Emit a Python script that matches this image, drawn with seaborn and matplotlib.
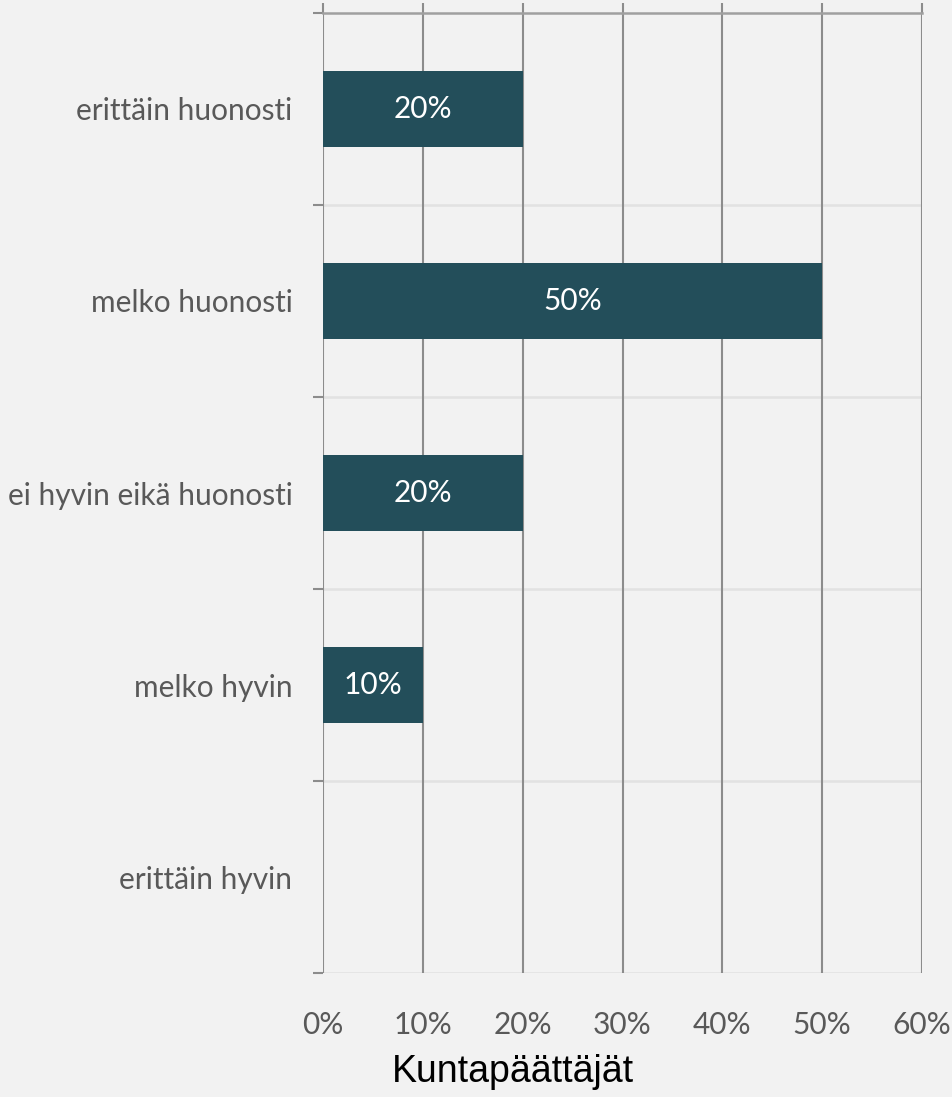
import numpy as np
import pandas as pd
import seaborn as sns
import matplotlib.pyplot as plt
from matplotlib.ticker import FixedLocator, PercentFormatter

# data
vastaukset = ['erittäin huonosti', 'melko huonosti', 'ei hyvin eikä huonosti',
              'melko hyvin', 'erittäin hyvin']
osuudet = [20, 50, 20, 10, 0]
x_ticks = [0, 10, 20, 30, 40, 50, 60]

df = pd.DataFrame({'vastaus': vastaukset, 'osuus': osuudet})

sns.set_style('white')
plt.rcParams['font.family'] = ['Lato', 'DejaVu Sans']

bg = '#f2f2f2'
bar_col = '#234e5a'
grid_col = '#8c8c8c'
text_col = '#595959'

fig = plt.figure(figsize=(9.52, 10.97), dpi=100, facecolor=bg)
ax = fig.add_axes([323 / 952, 1 - 973 / 1097, (922 - 323) / 952, (973 - 13) / 1097])
ax.set_facecolor(bg)

sns.barplot(data=df, y='vastaus', x='osuus', order=vastaukset, orient='h',
            color=bar_col, saturation=1, width=0.4, linewidth=0, ax=ax, zorder=3)

ax.set_xlim(0, 60)
ax.set_ylim(4.5, -0.5)

# pystyviivat
ax.xaxis.set_major_locator(FixedLocator(x_ticks))
ax.xaxis.set_major_formatter(PercentFormatter(decimals=0))
for x in x_ticks:
    ax.axvline(x, color=grid_col, lw=1.5, zorder=1)

# vaakaviivat luokkien välissä
bounds = np.arange(-0.5, 5, 1)
for y in bounds[1:]:
    ax.axhline(y, color='#e2e2e2', lw=1.8, zorder=0.5)

ax.yaxis.set_minor_locator(FixedLocator(bounds))
ax.tick_params(axis='y', which='minor', length=7, width=1.5, color=grid_col, left=True)
ax.tick_params(axis='y', which='major', length=0, pad=22, labelsize=21.5, labelcolor=text_col)

ax.xaxis.set_ticks_position('top')
ax.tick_params(axis='x', which='major', top=True, bottom=False, labeltop=False,
               labelbottom=True, length=7, width=1.5, color=grid_col,
               pad=20, labelsize=21.5, labelcolor=text_col)

for s in ['right', 'bottom', 'left']:
    ax.spines[s].set_visible(False)
ax.spines['top'].set_color('#a0a0a0')
ax.spines['top'].set_linewidth(1.8)

ax.set_xlabel('')
ax.set_ylabel('')

for c in ax.containers:
    labels = [f'{v:.0f}%' if v > 0 else '' for v in c.datavalues]
    ax.bar_label(c, labels=labels, label_type='center', color='white', fontsize=21.5)

fig.text(513 / 952, 1 - 1082 / 1097, 'Kuntapäättäjät', ha='center', va='baseline',
         fontsize=27, family='Liberation Sans', color='black')

fig.savefig('out.png', dpi=100, facecolor=bg)
